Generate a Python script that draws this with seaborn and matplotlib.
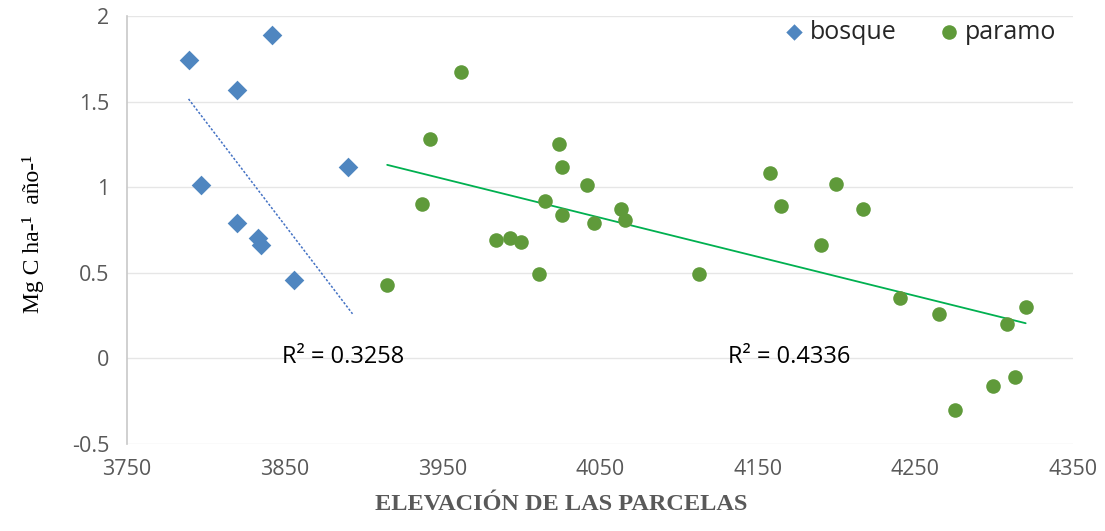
import numpy as np
import pandas as pd
import matplotlib
matplotlib.use("Agg")
import matplotlib.pyplot as plt
import seaborn as sns

# ---- data ----
bosque_x = [3789, 3820, 3842, 3797, 3820, 3833, 3835, 3856, 3890]
bosque_y = [1.74, 1.57, 1.89, 1.01, 0.79, 0.70, 0.66, 0.46, 1.12]
paramo_x = [3915, 3937, 3942, 3962, 3984, 3993, 4000, 4011, 4015, 4024, 4026, 4026,
            4042, 4046, 4063, 4066, 4113, 4158, 4165, 4190, 4200, 4217, 4240, 4265,
            4275, 4299, 4308, 4313, 4320]
paramo_y = [0.43, 0.90, 1.28, 1.67, 0.69, 0.70, 0.68, 0.49, 0.92, 1.25, 1.12, 0.84,
            1.01, 0.79, 0.87, 0.81, 0.49, 1.08, 0.89, 0.66, 1.02, 0.87, 0.35, 0.26,
            -0.30, -0.16, 0.20, -0.11, 0.30]
# trend lines (start / end)
trend_bosque_x = [3789, 3893]
trend_bosque_y = [1.515, 0.26]
trend_paramo_x = [3915, 4320]
trend_paramo_y = [1.13, 0.205]
series_names = ["bosque", "paramo"]
r2_labels = ["R² = 0.3258", "R² = 0.4336"]
x_ticks = [3750, 3850, 3950, 4050, 4150, 4250, 4350]
y_ticks = [-0.5, 0, 0.5, 1, 1.5, 2]
y_tick_labels = ["-0.5", "0", "0.5", "1", "1.5", "2"]

df = pd.DataFrame({
    "x": bosque_x + paramo_x,
    "y": bosque_y + paramo_y,
    "tipo": [series_names[0]] * len(bosque_x) + [series_names[1]] * len(paramo_x),
})

sns.set_style("white")
plt.rcParams["font.family"] = ["Open Sans", "DejaVu Sans"]

blue = "#4F86C0"
green = "#5F9A3A"

fig = plt.figure(figsize=(11.05, 5.31), dpi=100)
ax = fig.add_axes([0.115, 0.164, 0.856, 0.806])

sns.scatterplot(data=df[df.tipo == "bosque"], x="x", y="y", marker="D", color=blue,
                s=100, linewidth=0, ax=ax, label=series_names[0], zorder=3)
sns.scatterplot(data=df[df.tipo == "paramo"], x="x", y="y", marker="o", color=green,
                s=110, linewidth=0, ax=ax, label=series_names[1], zorder=3)

sns.lineplot(x=trend_bosque_x, y=trend_bosque_y, color="#4472C4", lw=1.1,
             ax=ax, zorder=2, legend=False)
ax.lines[-1].set_linestyle((0, (1.5, 1.2)))
sns.lineplot(x=trend_paramo_x, y=trend_paramo_y, color="#00B050", lw=1.3, ax=ax,
             zorder=2, legend=False)

ax.text(3848, 0.01, r2_labels[0], fontsize=17, ha="left", va="center", color="black")
ax.text(4131, 0.01, r2_labels[1], fontsize=17, ha="left", va="center", color="black")

ax.set_xlim(3750, 4350)
ax.set_ylim(-0.5, 2)
ax.set_xticks(x_ticks)
ax.set_xticklabels([str(t) for t in x_ticks])
ax.set_yticks(y_ticks)
ax.set_yticklabels(y_tick_labels)
ax.tick_params(axis="both", length=0, labelsize=15.5, labelcolor="#595959")
ax.tick_params(axis="x", pad=11)
ax.tick_params(axis="y", pad=13)
ax.grid(axis="y", color="#E6E6E6", lw=1)
ax.set_axisbelow(True)
for s in ["top", "right", "bottom"]:
    ax.spines[s].set_visible(False)
ax.spines["left"].set_color("#C8C8C8")
ax.spines["left"].set_linewidth(1.2)
ax.set_xlabel("ELEVACIÓN DE LAS PARCELAS", fontfamily="Liberation Serif", fontweight="bold",
              fontsize=17.5, color="#595959")
ax.xaxis.set_label_coords(0.459, -0.117)
ax.set_ylabel("Mg C ha-¹  año-¹", fontfamily="Liberation Serif", fontsize=17,
              color="black")
ax.yaxis.set_label_coords(-0.088, 0.49)

leg = ax.legend(loc="upper right", ncol=2, frameon=False, fontsize=18,
                bbox_to_anchor=(0.982, 0.991), borderaxespad=0, borderpad=0,
                handlelength=0.8, handletextpad=0.24, columnspacing=1.68)
hs = leg.legend_handles
hs[0].set_sizes([70])
hs[1].set_sizes([110])

fig.savefig("out.png", dpi=100)
